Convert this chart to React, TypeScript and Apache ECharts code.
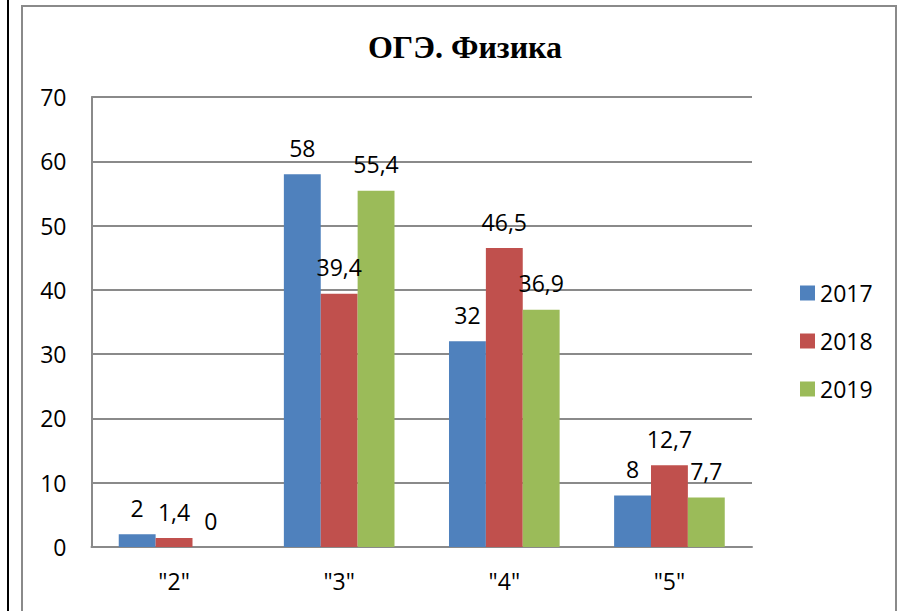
import React, { useEffect, useRef } from "react";
import * as echarts from "echarts";

const categories = ['"2"', '"3"', '"4"', '"5"'];
const seriesNames = ["2017", "2018", "2019"];
const values2017 = [2, 58, 32, 8];
const values2018 = [1.4, 39.4, 46.5, 12.7];
const values2019 = [0, 55.4, 36.9, 7.7];
const colors = ["#4F81BD", "#C0504D", "#9BBB59"];
const titleText = "ОГЭ. Физика";

const FONT = "'Open Sans', 'Liberation Sans', sans-serif";

export default function App() {
  const ref = useRef<HTMLDivElement>(null);
  useEffect(() => {
    if (!ref.current) return;
    const chart = echarts.init(ref.current, undefined, { renderer: "svg" });
    const allValues = [values2017, values2018, values2019];
    chart.setOption({
      animation: false,
      backgroundColor: "#ffffff",
      title: {
        text: titleText,
        left: 460,
        top: 26,
        textAlign: "center",
        textStyle: {
          fontFamily: "'Liberation Serif', 'Times New Roman', serif",
          fontWeight: "bold",
          fontSize: 32,
          color: "#000",
        },
      },
      graphic: [
        {
          type: "rect",
          shape: { x: 22, y: 6, width: 874, height: 700 },
          style: { fill: "none", stroke: "#8a8a8a", lineWidth: 2 },
          silent: true,
          z: -1,
        },
        {
          type: "line",
          shape: { x1: 8, y1: 0, x2: 8, y2: 611 },
          style: { stroke: "#000", lineWidth: 2 },
          silent: true,
        },
      ],
      legend: {
        orient: "vertical",
        left: 795,
        top: 276,
        itemWidth: 15,
        itemHeight: 15,
        itemGap: 24,
        icon: "rect",
        data: seriesNames,
        textStyle: {
          fontFamily: FONT,
          fontSize: 23,
          lineHeight: 24,
          color: "#000",
        },
      },
      grid: {
        left: 91.5,
        right: 151,
        top: 97,
        bottom: 64,
        containLabel: false,
      },
      xAxis: {
        type: "category",
        data: categories,
        axisLine: { show: true, lineStyle: { color: "#8a8a8a", width: 2 } },
        axisTick: { show: false },
        axisLabel: {
          margin: 22,
          fontFamily: FONT,
          fontSize: 23,
          color: "#000",
        },
      },
      yAxis: {
        type: "value",
        min: 0,
        max: 70,
        interval: 10,
        axisLine: { show: true, lineStyle: { color: "#8a8a8a", width: 2 } },
        axisTick: { show: false },
        splitLine: { show: true, lineStyle: { color: "#8a8a8a", width: 2 } },
        axisLabel: {
          margin: 25,
          fontFamily: FONT,
          fontSize: 23,
          color: "#000",
        },
      },
      series: seriesNames.map((name, i) => ({
        name,
        type: "bar",
        data: allValues[i],
        barGap: "0%",
        barCategoryGap: "33%",
        itemStyle: { color: colors[i] },
        label: {
          show: true,
          position: "top",
          distance: 15,
          fontFamily: FONT,
          fontSize: 23,
          color: "#000",
          formatter: (p: any) => String(p.value).replace(".", ","),
        },
      })),
    });
    return () => chart.dispose();
  }, []);
  return (
    <div
      ref={ref}
      style={{ position: "absolute", left: 0, top: 0, width: 903, height: 611 }}
    />
  );
}
